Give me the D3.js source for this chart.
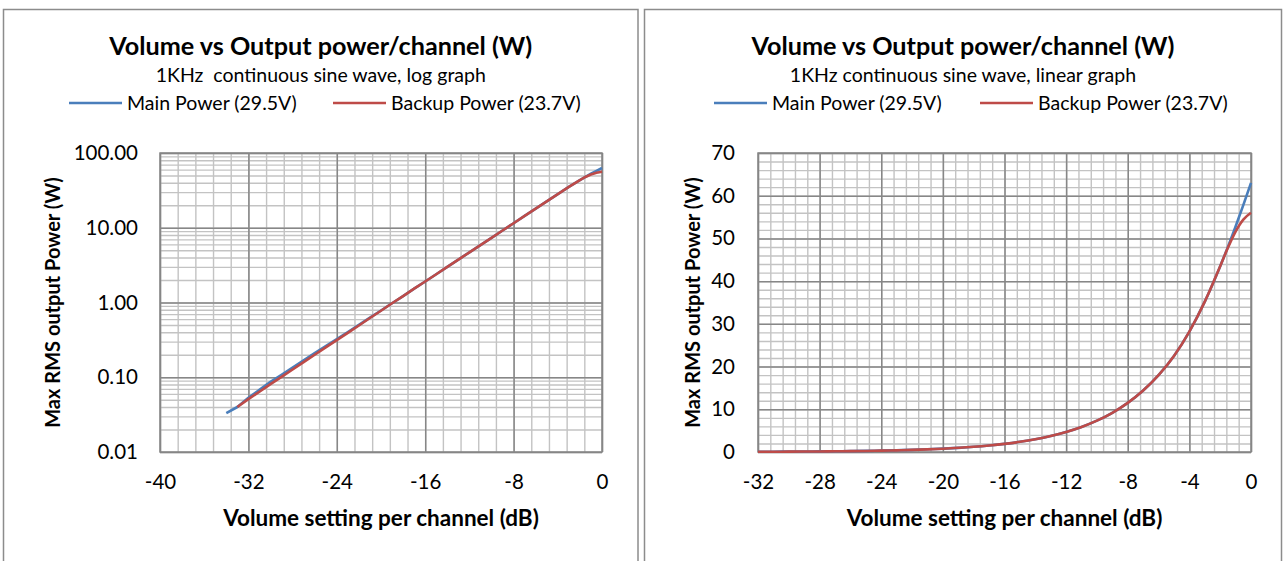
<!DOCTYPE html>
<html>
<head>
<meta charset="utf-8">
<script src="https://d3js.org/d3.v7.min.js"></script>
<style>
  body { margin: 0; background: #fff; }
  text { font-family: Lato, "Open Sans", sans-serif; fill: #000; }
</style>
</head>
<body>
<svg id="chart" width="1286" height="561"></svg>
<script>
// Volume setting (dB) for each measured point
var volume = [-34, -33, -32, -31, -30, -29, -28, -27, -26, -25, -24, -23, -22, -21, -20,
  -19, -18, -17, -16, -15, -14, -13, -12, -11, -10, -9, -8, -7, -6, -5, -4, -3, -2,
  -1.5, -1, -0.5, 0];

// Max RMS output power (W), main supply 29.5V
var mainPower = [0.033, 0.040, 0.053, 0.068, 0.087, 0.108, 0.135, 0.169, 0.211, 0.262,
  0.325, 0.403, 0.503, 0.628, 0.781, 0.977, 1.22, 1.53, 1.91, 2.39, 2.99, 3.75, 4.69,
  5.86, 7.33, 9.18, 11.5, 14.4, 18.0, 22.5, 28.2, 35.2, 43.5, 48.0, 52.8, 57.8, 63.0];

// Max RMS output power (W), backup supply 23.7V
var backupPower = [null, 0.040, 0.051, 0.064, 0.081, 0.101, 0.127, 0.159, 0.200, 0.251,
  0.314, 0.392, 0.492, 0.620, 0.775, 0.977, 1.22, 1.53, 1.91, 2.39, 2.99, 3.75, 4.69,
  5.86, 7.33, 9.18, 11.5, 14.4, 18.0, 22.5, 28.2, 35.2, 43.5, 47.8, 51.6, 54.4, 56.0];

var seriesNames = ["Main Power (29.5V)", "Backup Power (23.7V)"];
var seriesColors = ["#4a7ebb", "#be4b48"];

var logTicksY = [0.01, 0.1, 1, 10, 100];
var logTicksX = [-40, -32, -24, -16, -8, 0];
var linTicksY = [0, 10, 20, 30, 40, 50, 60, 70];
var linTicksX = [-32, -28, -24, -20, -16, -12, -8, -4, 0];

var chartTitle = "Volume vs Output power/channel (W)";
var subLog = "1KHz\u00a0 continuous sine wave, log graph";
var subLin = "1KHz continuous sine wave, linear graph";
var yTitle = "Max RMS output Power (W)";
var xTitle = "Volume setting per channel (dB)";

var svg = d3.select("#chart");

var rows = volume.map(function(v, i) {
  return { x: v, main: mainPower[i], backup: backupPower[i] };
});

function drawPanel(p) {
  var g = svg.append("g");

  // frame around each chart object
  g.append("rect")
    .attr("x", p.left).attr("y", 9.5)
    .attr("width", p.width).attr("height", 600)
    .attr("fill", "#fff").attr("stroke", "#8c8c8c").attr("stroke-width", 1.5);

  var cx = p.left + p.width / 2;
  g.append("text").attr("x", cx).attr("y", 55)
    .attr("text-anchor", "middle").style("font-weight", "bold").style("font-size", "25.2px")
    .text(chartTitle);
  g.append("text").attr("x", cx).attr("y", 82)
    .attr("text-anchor", "middle").style("font-size", "19.5px")
    .text(p.subtitle);

  // legend
  seriesNames.forEach(function(name, i) {
    var lx = p.legendX[i];
    g.append("line").attr("x1", lx).attr("x2", lx + 53).attr("y1", 103).attr("y2", 103)
      .attr("stroke", seriesColors[i]).attr("stroke-width", 2.6);
    g.append("text").attr("x", lx + 58).attr("y", 110).style("font-size", "19.5px").text(name);
  });

  var x = p.x, y = p.y;
  var x0 = x.range()[0], x1 = x.range()[1];
  var y0 = y.range()[0], y1 = y.range()[1];

  // minor grid
  g.append("g").attr("transform", "translate(0," + y0 + ")")
    .call(d3.axisBottom(x).tickValues(p.minorX).tickSize(y1 - y0).tickFormat(""))
    .call(function(a) { a.select(".domain").remove(); })
    .selectAll("line").attr("stroke", "#c3c3c3").attr("stroke-width", 1.4);
  g.append("g").attr("transform", "translate(" + x0 + ",0)")
    .call(d3.axisLeft(y).tickValues(p.minorY).tickSize(x0 - x1).tickFormat(""))
    .call(function(a) { a.select(".domain").remove(); })
    .selectAll("line").attr("stroke", "#c3c3c3").attr("stroke-width", 1.4);

  // major grid
  g.append("g").attr("transform", "translate(0," + y0 + ")")
    .call(d3.axisBottom(x).tickValues(p.ticksX).tickSize(y1 - y0).tickFormat(""))
    .call(function(a) { a.select(".domain").remove(); })
    .selectAll("line").attr("stroke", "#878787").attr("stroke-width", 1.5);
  g.append("g").attr("transform", "translate(" + x0 + ",0)")
    .call(d3.axisLeft(y).tickValues(p.ticksY).tickSize(x0 - x1).tickFormat(""))
    .call(function(a) { a.select(".domain").remove(); })
    .selectAll("line").attr("stroke", "#878787").attr("stroke-width", 1.5);

  g.append("rect").attr("x", x0).attr("y", y1).attr("width", x1 - x0).attr("height", y0 - y1)
    .attr("fill", "none").attr("stroke", "#878787").attr("stroke-width", 1.5);

  // tick labels
  var xa = g.append("g").attr("transform", "translate(0," + y0 + ")")
    .call(d3.axisBottom(x).tickValues(p.ticksX).tickSize(0).tickPadding(22)
      .tickFormat(function(d) { return String(d); }));
  xa.select(".domain").remove();
  xa.selectAll("text").style("font-size", "20.5px").style("font-family", "Lato, sans-serif").attr("fill", "#000");

  var ya = g.append("g").attr("transform", "translate(" + x0 + ",0)")
    .call(d3.axisLeft(y).tickValues(p.ticksY).tickSize(0).tickPadding(p.yPad).tickFormat(p.yFormat));
  ya.select(".domain").remove();
  ya.selectAll("text").style("font-size", "20.5px").style("font-family", "Lato, sans-serif").attr("fill", "#000");

  // axis titles
  g.append("text").attr("x", (x0 + x1) / 2).attr("y", 526)
    .attr("text-anchor", "middle").style("font-weight", "bold").style("font-size", "22.5px")
    .text(xTitle);
  g.append("text")
    .attr("transform", "translate(" + p.yTitleX + "," + (y0 + y1) / 2 + ") rotate(-90)")
    .attr("text-anchor", "middle").style("font-weight", "bold").style("font-size", "20px")
    .text(yTitle);

  // data lines
  ["main", "backup"].forEach(function(key, i) {
    var pts = rows.filter(function(r) { return r[key] != null && r.x >= x.domain()[0]; });
    var line = d3.line()
      .x(function(d) { return x(d.x); })
      .y(function(d) { return y(d[key]); })
      .curve(p.curve);
    g.append("path").datum(pts)
      .attr("d", line).attr("fill", "none")
      .attr("stroke", seriesColors[i]).attr("stroke-width", 2.6)
      .attr("stroke-linejoin", "round");
  });
}

// log chart
var xLog = d3.scaleLinear().domain([-40, 0]).range([160, 602]);
var yLog = d3.scaleLog().domain([0.01, 100]).range([452, 153]);
drawPanel({
  left: 3.5, width: 634.5, subtitle: subLog, legendX: [69, 333],
  x: xLog, y: yLog,
  ticksX: logTicksX, ticksY: logTicksY,
  minorX: d3.range(0, 26).map(function(i) { return -40 + i * 1.6; }),
  minorY: yLog.ticks(),
  yFormat: d3.format(".2f"), yPad: 22, yTitleX: 60,
  curve: d3.curveLinear
});

// linear chart
var xLin = d3.scaleLinear().domain([-32, 0]).range([758, 1251]);
var yLin = d3.scaleLinear().domain([0, 70]).range([452, 153]);
drawPanel({
  left: 644.5, width: 637, subtitle: subLin, legendX: [714, 980],
  x: xLin, y: yLin,
  ticksX: linTicksX, ticksY: linTicksY,
  minorX: d3.range(0, 41).map(function(i) { return -32 + i * 0.8; }),
  minorY: d3.range(0, 36).map(function(i) { return i * 2; }),
  yFormat: d3.format("d"), yPad: 23, yTitleX: 700,
  curve: d3.curveMonotoneX
});
</script>
</body>
</html>
